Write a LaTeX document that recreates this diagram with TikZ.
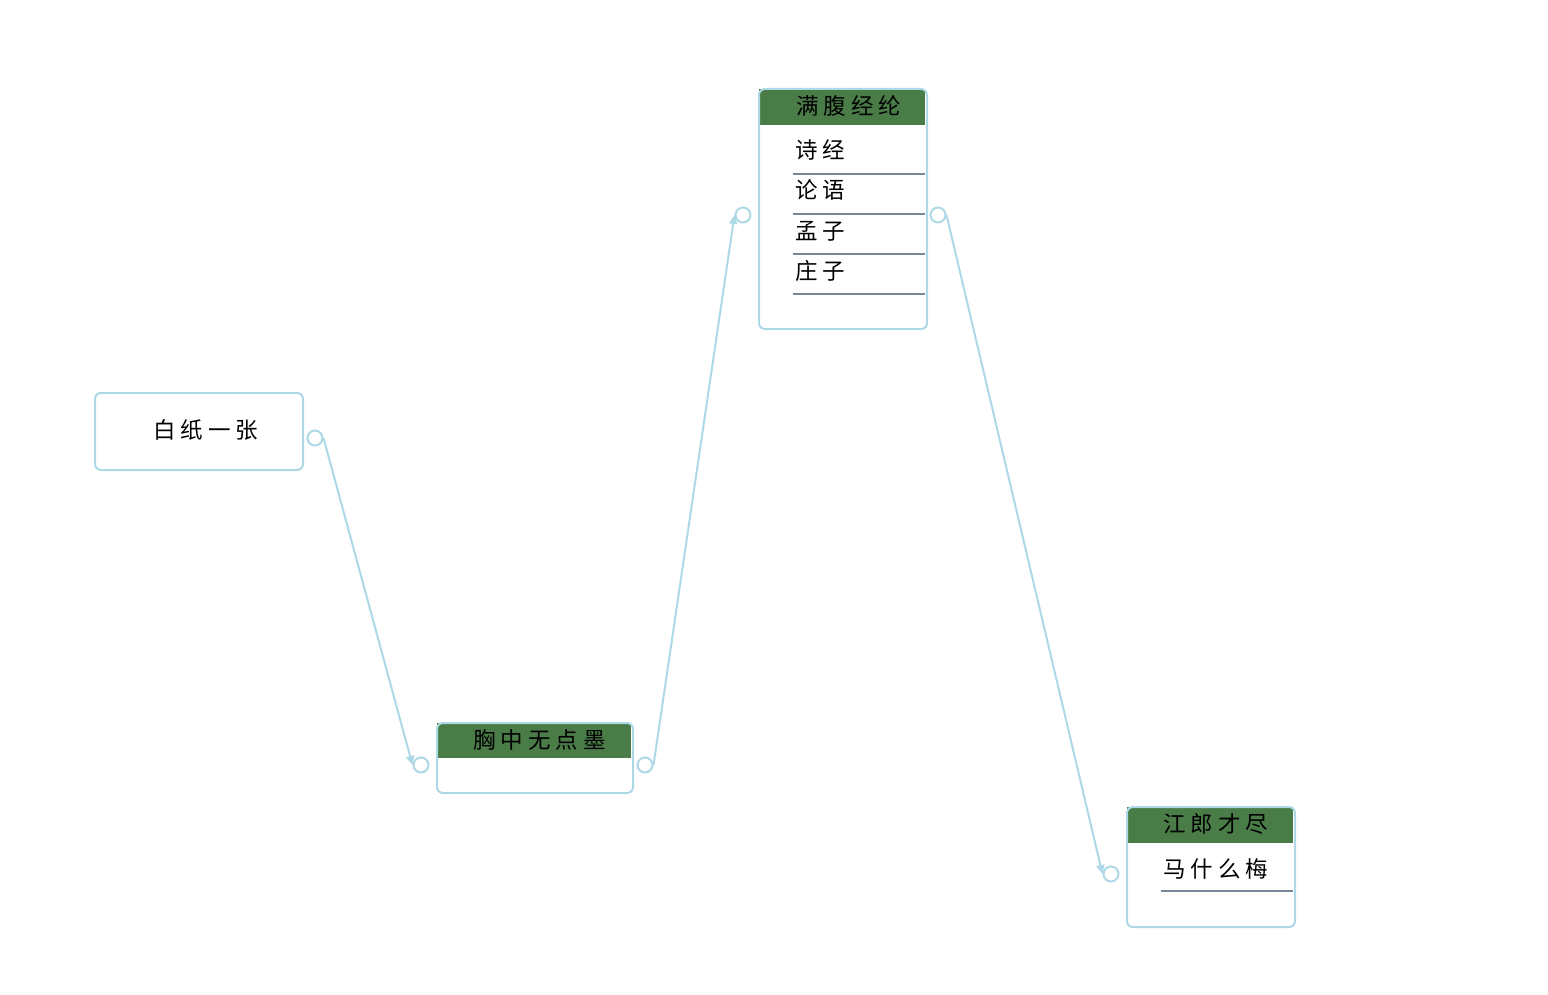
\documentclass[tikz,border=0pt]{standalone}
\usepackage{fontspec}
\newfontfamily\cjk{Noto Sans CJK SC}
\usetikzlibrary{arrows.meta}
\definecolor{edge}{HTML}{ADD8E6}
\definecolor{hdr}{RGB}{74,124,72}
\definecolor{rulec}{HTML}{778899}
\tikzset{
 box/.style={draw=edge, line width=2pt, rounded corners=6pt, inner sep=0pt, anchor=north west},
 head/.style={fill=hdr, inner sep=0pt, anchor=north west},
 lbl/.style={font=\cjk\fontsize{22.5}{26}\selectfont, anchor=west, inner sep=0pt},
 port/.style={circle, draw=edge, line width=2pt, minimum size=15pt, inner sep=0pt, fill=white},
 conn/.style={draw=edge, line width=2pt, -{Triangle[length=9pt,width=8pt]}},
 sepline/.style={draw=rulec, line width=2pt},
}
\newcommand\ks{\kern5pt}
\begin{document}
\begin{tikzpicture}[x=1pt,y=-1pt]
\useasboundingbox (0,0) rectangle (1548,995);
% box 1
\node[box, minimum width=208pt, minimum height=77pt] (b1) at (94,392) {};
\node[lbl] (t1) at (153,430) {白\ks 纸\ks 一\ks 张};
\node[port] (p1) at (315,438) {};
% box 2
\node[head, minimum width=194pt, minimum height=35pt] (h2) at (437,723) {};
\node[box, minimum width=196pt, minimum height=70pt] (b2) at (436,722) {};
\node[lbl] (t2) at (473,740) {胸\ks 中\ks 无\ks 点\ks 墨};
\node[port] (p2l) at (421,765) {};
\node[port] (p2r) at (645,765) {};
% box 3
\node[head, minimum width=166pt, minimum height=36pt] (h3) at (759,89) {};
\node[box, minimum width=168pt, minimum height=240pt] (b3) at (758,88) {};
\node[lbl] (t3) at (796,106) {满\ks 腹\ks 经\ks 纶};
\node[lbl] (r31) at (795,150) {诗\ks 经};
\node[lbl] (r32) at (795,190) {论\ks 语};
\node[lbl] (r33) at (795,231) {孟\ks 子};
\node[lbl] (r34) at (795,271) {庄\ks 子};
\draw[sepline] (793,174) -- (925,174);
\draw[sepline] (793,214) -- (925,214);
\draw[sepline] (793,254) -- (925,254);
\draw[sepline] (793,294) -- (925,294);
\node[port] (p3l) at (743,215) {};
\node[port] (p3r) at (938,215) {};
% box 4
\node[head, minimum width=166pt, minimum height=36pt] (h4) at (1127,807) {};
\node[box, minimum width=168pt, minimum height=120pt] (b4) at (1126,806) {};
\node[lbl] (t4) at (1163,824) {江\ks 郎\ks 才\ks 尽};
\node[lbl] (r41) at (1163,869) {马\ks 什\ks 么\ks 梅};
\draw[sepline] (1161,891) -- (1293,891);
\node[port] (p4l) at (1111,874) {};
% connectors
\draw[conn] (p1.east) -- (p2l.west);
\draw[conn] (p2r.east) -- (p3l.west);
\draw[conn] (p3r.east) -- (p4l.west);
\end{tikzpicture}
\end{document}
